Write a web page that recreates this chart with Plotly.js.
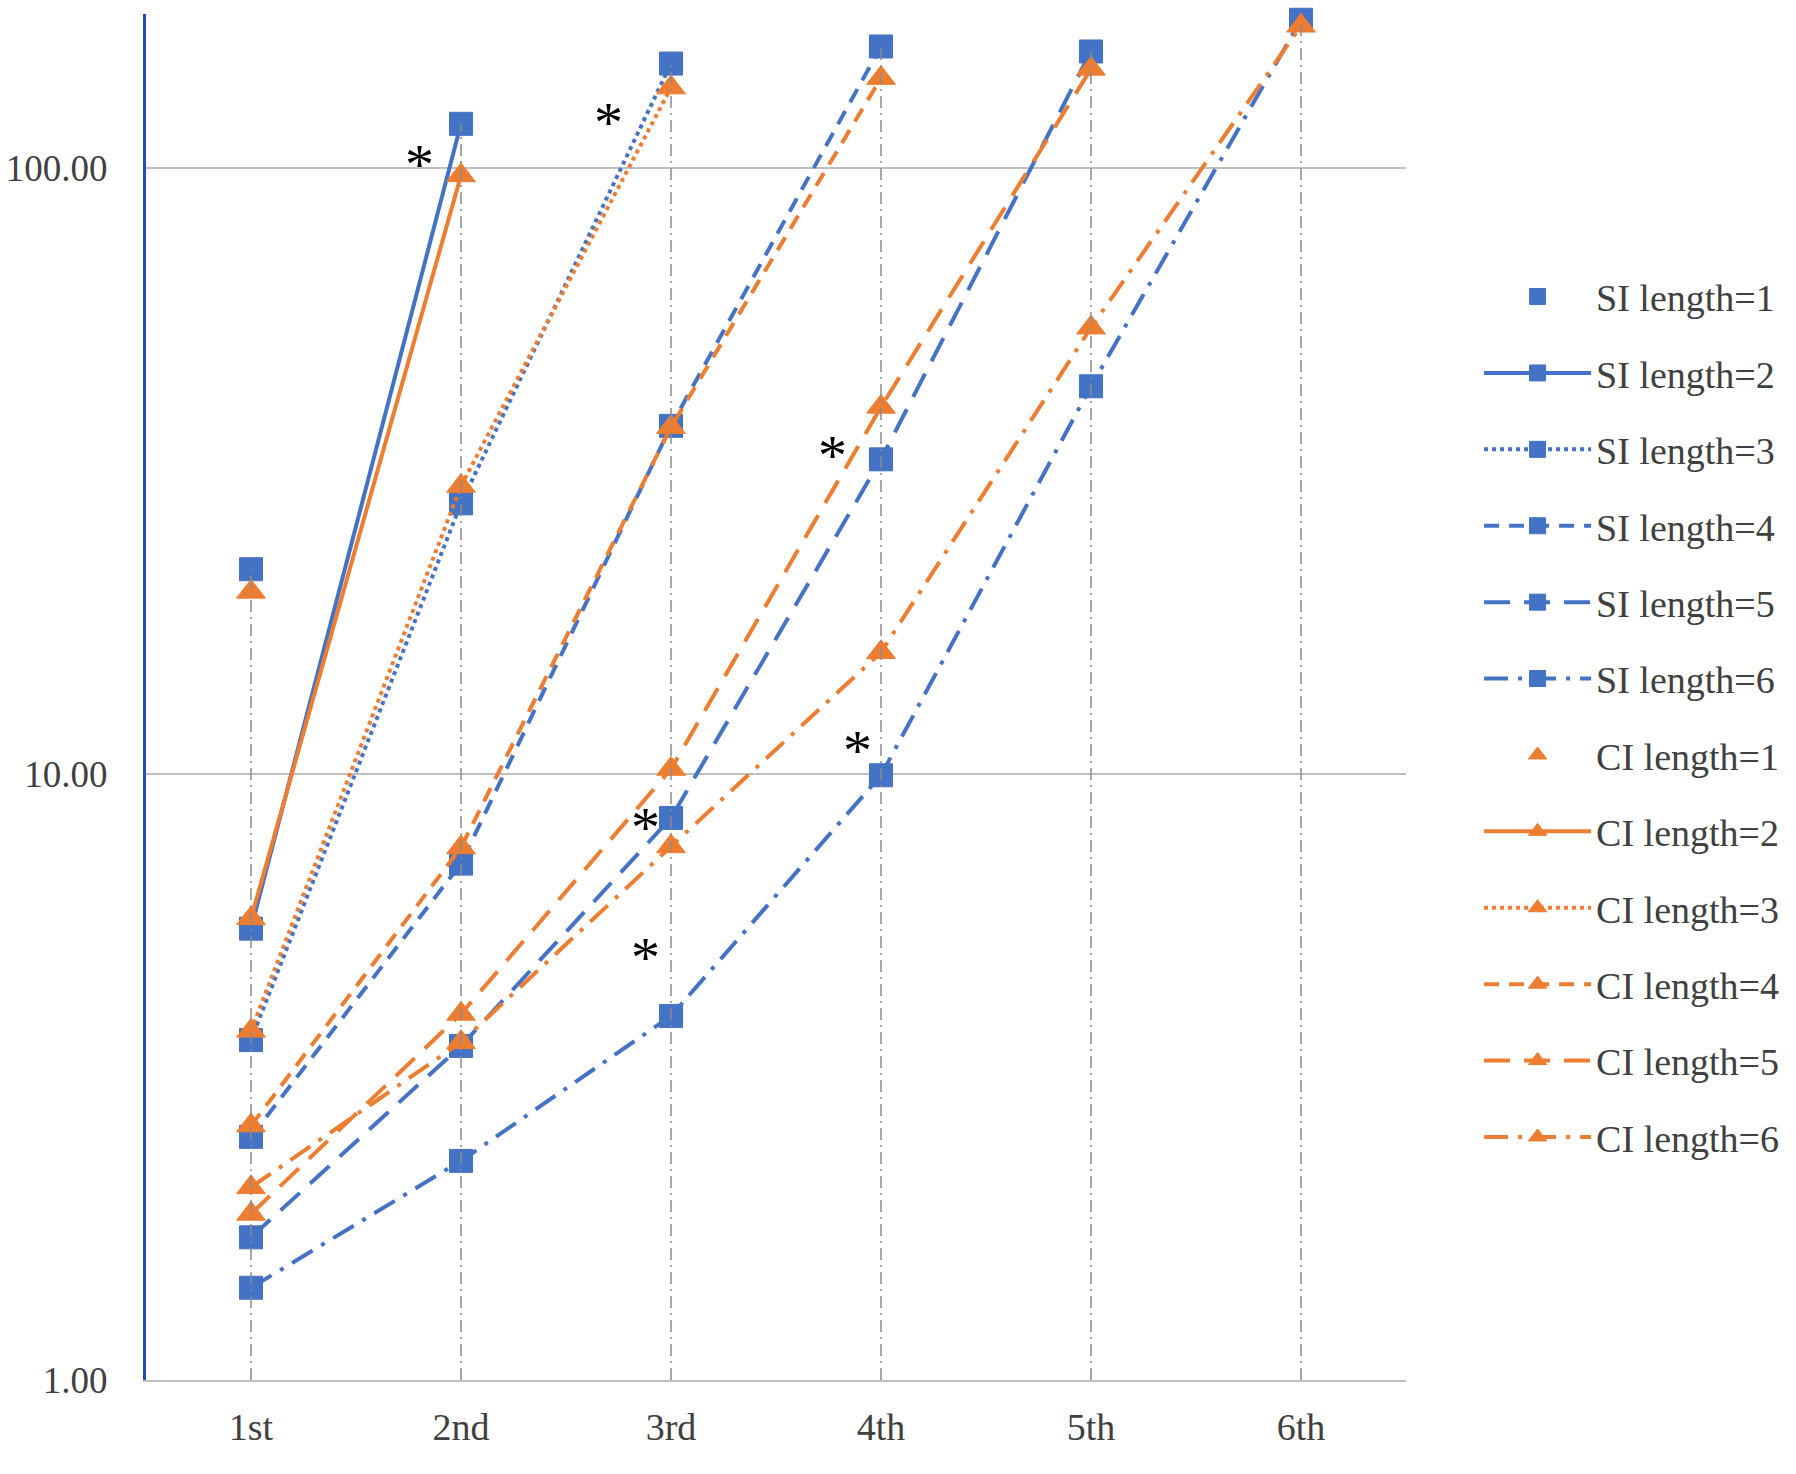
<!DOCTYPE html>
<html>
<head>
<meta charset="utf-8">
<script src="https://cdn.plot.ly/plotly-3.0.1.min.js"></script>
<style>
  html, body { margin: 0; padding: 0; background: #fff; }
  #chart { width: 1796px; height: 1474px; }
</style>
</head>
<body>
<div id="chart"></div>
<script>
(function () {
  'use strict';

  var BLUE   = '#4472C4';
  var ORANGE = '#ED7D31';
  var FONT   = '"Liberation Serif", "DejaVu Serif", serif';

  /* ── data (log scale) ── */
  var categories = ['1st', '2nd', '3rd', '4th', '5th', '6th'];

  var si1 = [21.8];
  var si2 = [5.56, 118.5];
  var si3 = [3.64, 28.0, 149];
  var si4 = [2.52, 7.12, 37.6, 159];
  var si5 = [1.72, 3.56, 8.47, 33.1, 156];
  var si6 = [1.42, 2.30, 3.99, 9.96, 43.7, 176];

  var ci1 = [20.0];
  var ci2 = [5.78, 97.4];
  var ci3 = [3.77, 29.9, 136];
  var ci4 = [2.63, 7.57, 37.4, 141];
  var ci5 = [1.88, 4.02, 10.2, 40.4, 146];
  var ci6 = [2.08, 3.61, 7.60, 15.9, 54.6, 172];

  var yTickVals = [1, 10, 100];
  var yTickText = ['1.00', '10.00', '100.00'];

  /* significance marks: [category index, value] */
  var stars = [[0.8, 106], [1.7, 124], [1.88, 8.5], [2.77, 35], [2.89, 11.4], [1.88, 5.2]];

  /* line style per length */
  var dashes = [null, 'solid', 'dot', '15px,10px', '26px,14px', '24px,10px,4px,10px'];

  function series(name, vals, color, symbol, dash) {
    return {
      x: categories.slice(0, vals.length),
      y: vals,
      name: name,
      legendgroup: name,
      type: 'scatter',
      mode: dash ? 'lines+markers' : 'markers',
      line: { color: color, width: 4, dash: dash || 'solid' },
      marker: {
        symbol: symbol, size: symbol === 'square' ? 23 : 25, color: color,
        line: { width: 1, color: color }
      },
      cliponaxis: false,
      hovertemplate: '%{x}: %{y:.2f}<extra>' + name + '</extra>'
    };
  }

  var siSets = [si1, si2, si3, si4, si5, si6];
  var ciSets = [ci1, ci2, ci3, ci4, ci5, ci6];
  var traces = [];
  siSets.forEach(function (v, i) {
    traces.push(series('SI length=' + (i + 1), v, BLUE, 'square', dashes[i]));
  });
  ciSets.forEach(function (v, i) {
    traces.push(series('CI length=' + (i + 1), v, ORANGE, 'triangle-up', dashes[i]));
  });

  /* drop lines: from axis floor up to the highest point at each category */
  var dropX = [], dropY = [];
  categories.forEach(function (c, i) {
    var top = 0;
    siSets.concat(ciSets).forEach(function (v) {
      if (v.length > i && v[i] > top) top = v[i];
    });
    dropX.push(c, c, null);
    dropY.push(yTickVals[0], top, null);
  });
  traces.push({
    x: dropX, y: dropY, type: 'scatter', mode: 'lines',
    line: { color: '#8C8C8C', width: 1.5, dash: '12px,5px,2px,5px' },
    showlegend: false, hoverinfo: 'skip', cliponaxis: false
  });

  var annotations = stars.map(function (s) {
    return {
      x: s[0], y: Math.log10(s[1]), xref: 'x', yref: 'y',
      text: '*', showarrow: false, yshift: -11,
      font: { family: FONT, size: 58, color: '#000' }
    };
  });

  var layout = {
    width: 1796, height: 1474,
    margin: { l: 146, r: 387, t: 14, b: 94 },
    paper_bgcolor: '#fff', plot_bgcolor: '#fff',
    font: { family: FONT, size: 38, color: '#404040' },
    showlegend: true,
    legend: {
      x: 1.058, xanchor: 'left', y: 0.816, yanchor: 'top',
      font: { family: FONT, size: 38, color: '#404040' },
      itemwidth: 107, tracegroupgap: 24, bgcolor: 'rgba(0,0,0,0)'
    },
    xaxis: {
      type: 'category', categoryorder: 'array', categoryarray: categories,
      range: [-0.5, 5.5],
      showgrid: false, zeroline: false,
      showline: true, linecolor: '#BFBFBF', linewidth: 2,
      ticks: '', ticklabelstandoff: 12,
      tickfont: { family: FONT, size: 38, color: '#404040' },
      fixedrange: true
    },
    yaxis: {
      type: 'log', range: [0, 2.255],
      tickvals: yTickVals, ticktext: yTickText,
      showgrid: true, gridcolor: '#BFBFBF', gridwidth: 2,
      zeroline: false,
      showline: true, linecolor: '#1F4EBD', linewidth: 3,
      ticks: '', ticklabelstandoff: 28,
      tickfont: { family: FONT, size: 37, color: '#404040' },
      fixedrange: true
    },
    annotations: annotations,
    hovermode: 'closest',
    dragmode: false
  };

  Plotly.newPlot('chart', traces, layout, { displayModeBar: false, responsive: false });
})();
</script>
</body>
</html>
